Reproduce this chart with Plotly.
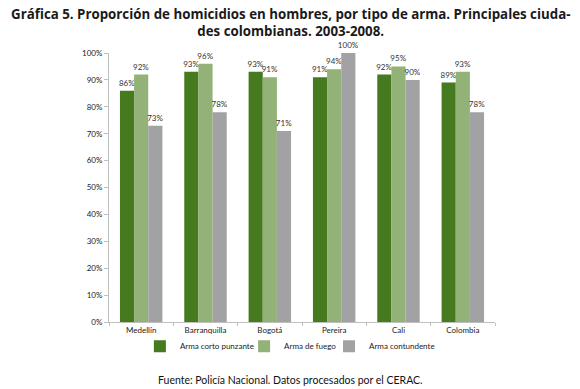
import plotly.graph_objects as go

ciudades = ["Medellín", "Barranquilla", "Bogotá", "Pereira", "Cali", "Colombia"]
corto_punzante = [86, 93, 93, 91, 92, 89]
arma_fuego = [92, 96, 91, 94, 95, 93]
contundente = [73, 78, 71, 100, 90, 78]
y_ticks = [0, 10, 20, 30, 40, 50, 60, 70, 80, 90, 100]

series = [
    ("Arma corto punzante", corto_punzante, "#467a1f", "legend2", 0.08),
    ("Arma de fuego", arma_fuego, "#93b278", "legend3", 0.35),
    ("Arma contundente", contundente, "#a2a2a4", "legend4", 0.57),
]

fig = go.Figure()
legends = {}
for name, vals, color, leg, lx in series:
    fig.add_trace(go.Bar(
        x=ciudades, y=vals, name=name, marker_color=color,
        marker_line_width=0, legend=leg, showlegend=True,
        text=[f"{v}%" for v in vals], textposition="outside",
        textfont=dict(size=8, color="#333333", family="Lato"),
        cliponaxis=False, hoverinfo="skip",
    ))
    legends[leg] = dict(
        orientation="h", x=lx, xanchor="left", y=-0.09, yanchor="middle",
        font=dict(size=8, family="Lato", color="#222222"),
        itemwidth=30, bgcolor="rgba(0,0,0,0)",
    )

fig.update_layout(
    width=580, height=389,
    margin=dict(l=109, r=85, t=53, b=67),
    paper_bgcolor="white", plot_bgcolor="white",
    barmode="group", bargap=0.34, bargroupgap=0,
    uniformtext=dict(minsize=8, mode="show"),
    font=dict(family="Lato", color="#222222"),
    showlegend=True,
    yaxis=dict(
        range=[0, 100], tickvals=y_ticks, ticktext=[f"{t}%" for t in y_ticks],
        showgrid=False, showline=True, linecolor="#bfbfbf", linewidth=1,
        ticks="outside", ticklen=4, tickcolor="#bfbfbf",
        tickfont=dict(size=8, family="Lato", color="#222222"),
        zeroline=False,
    ),
    xaxis=dict(
        showline=True, linecolor="#bfbfbf", linewidth=1,
        ticks="outside", ticklen=3, tickcolor="#bfbfbf", tickson="boundaries",
        tickfont=dict(size=8, family="Lato", color="#222222"),
    ),
    annotations=[
        dict(
            text="<b>Gráfica 5. Proporción de homicidios en hombres, por tipo de arma. Principales ciuda-</b><br><b>des colombianas. 2003-2008.</b>",
            xref="paper", yref="paper", x=0.469, y=1.185, xanchor="center", yanchor="top",
            showarrow=False, align="center",
            font=dict(size=13.3, family="Open Sans", color="#1a1a1a"),
        ),
        dict(
            text="Fuente: Policía Nacional. Datos procesados por el CERAC.",
            xref="paper", yref="paper", x=0.469, y=-0.216, xanchor="center", yanchor="middle",
            showarrow=False, font=dict(size=10.5, family="Lato", color="#111111"),
        ),
    ],
    **legends,
)

fig.write_html(
    "out.html",
    config={"displayModeBar": False},
    post_script="document.body.style.margin='0';document.body.style.overflow='hidden';",
)
